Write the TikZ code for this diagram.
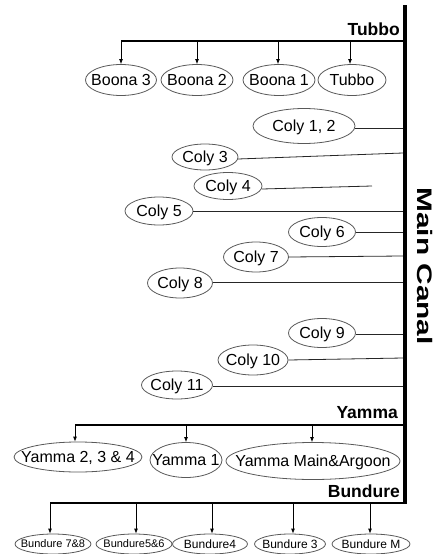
\documentclass[tikz,border=0pt]{standalone}
\usepackage{fontspec}
\setmainfont{Liberation Sans}
\usetikzlibrary{shapes.geometric,arrows.meta}
\newcommand\ovtext[1]{\makebox[0pt]{\raisebox{-0.36em}[0pt][0pt]{#1}}}
\tikzset{
  ov/.style={ellipse,draw=black!65,line width=0.8pt,inner sep=0pt,font=\fontsize{16}{16}\selectfont},
  ovs/.style={ov,font=\fontsize{12}{12}\selectfont},
  ovt/.style={ov,font=\fontsize{11}{11}\selectfont},
  canal/.style={line width=4pt,black},
  branch/.style={line width=2.2pt,black},
  arr/.style={line width=0.8pt,black,-{Latex[length=5pt,width=4pt]}},
  feed/.style={line width=0.8pt,black!85},
  lbl/.style={font=\fontsize{17.5}{17.5}\selectfont\bfseries,inner sep=0pt,anchor=base east}
}
\begin{document}
\begin{tikzpicture}[x=1pt,y=-1pt]
\useasboundingbox (0,0) rectangle (434,554);
% main canal
\coordinate (ctop) at (404.5,5);
\coordinate (cbot) at (404.5,503);
\draw[canal] (ctop) -- (cbot);
\node[font=\fontsize{21}{21}\selectfont\bfseries,rotate=-90,inner sep=0pt] (mc) at (425,266) {\scalebox{1.42}[1]{Main Canal}};

% Tubbo branch
\coordinate (tr) at (404,41);
\coordinate (tl) at (121,41);
\draw[branch] (tl) -- (tr);
\node[lbl] (tubbolbl) at (400,35) {Tubbo};
\node[ov,minimum width=71,minimum height=31] (b3) at (121,80) {\ovtext{Boona 3}};
\node[ov,minimum width=72,minimum height=31] (b2) at (197,80) {\ovtext{Boona 2}};
\node[ov,minimum width=72,minimum height=31] (b1) at (279,80) {\ovtext{Boona 1}};
\node[ov,minimum width=68,minimum height=31] (tu) at (352,80) {\ovtext{Tubbo}};
\coordinate (ta1) at (121,41);
\coordinate (ta2) at (197,41);
\coordinate (ta3) at (278,41);
\coordinate (ta4) at (350,41);
\draw[arr] (ta1) -- (ta1 |- b3.north);
\draw[arr] (ta2) -- (ta2 |- b2.north);
\draw[arr] (ta3) -- (ta3 |- b1.north);
\draw[arr] (ta4) -- (ta4 |- tu.north);

% Coly offtakes
\node[ov,minimum width=102,minimum height=35] (c12) at (304,126) {\ovtext{Coly 1, 2}};
\node[ov,minimum width=66,minimum height=26] (c3) at (205,157) {\ovtext{Coly 3}};
\node[ov,minimum width=68,minimum height=27] (c4) at (228,186) {\ovtext{Coly 4}};
\node[ov,minimum width=68,minimum height=28] (c5) at (159,211) {\ovtext{Coly 5}};
\node[ov,minimum width=67,minimum height=29] (c6) at (322,232) {\ovtext{Coly 6}};
\node[ov,minimum width=65,minimum height=30] (c7) at (256,257) {\ovtext{Coly 7}};
\node[ov,minimum width=65,minimum height=30] (c8) at (180,283) {\ovtext{Coly 8}};
\node[ov,minimum width=67,minimum height=29] (c9) at (322,333) {\ovtext{Coly 9}};
\node[ov,minimum width=70,minimum height=30] (c10) at (253,360) {\ovtext{Coly 10}};
\node[ov,minimum width=71,minimum height=28] (c11) at (177,385) {\ovtext{Coly 11}};
\coordinate (k12) at (403,128);
\coordinate (k3) at (403,153);
\coordinate (k4) at (372,186);
\coordinate (k5) at (403,211);
\coordinate (k6) at (403,232);
\coordinate (k7) at (403,256);
\coordinate (k8) at (403,282);
\coordinate (k9) at (403,334);
\coordinate (k10) at (403,358);
\coordinate (k11) at (403,386);
\draw[feed] (c12.east |- k12) -- (k12);
\draw[feed] (238,159) -- (k3);
\draw[feed] (262,189) -- (k4);
\draw[feed] (c5.east |- k5) -- (k5);
\draw[feed] (c6.east |- k6) -- (k6);
\draw[feed] (c7.east) -- (k7);
\draw[feed] (c8.east |- k8) -- (k8);
\draw[feed] (c9.east |- k9) -- (k9);
\draw[feed] (c10.east) -- (k10);
\draw[feed] (c11.east |- k11) -- (k11);

% Yamma branch
\coordinate (yr) at (404,425);
\coordinate (yl) at (75,425);
\draw[branch] (yl) -- (yr);
\node[lbl] (yammalbl) at (398,418) {Yamma};
\node[ov,minimum width=128,minimum height=30] (y234) at (78,457) {\ovtext{Yamma 2, 3 \& 4}};
\node[ov,minimum width=72,minimum height=35] (y1) at (186,460) {\ovtext{Yamma 1}};
\node[ov,minimum width=174,minimum height=37] (ym) at (313,461) {\ovtext{Yamma Main\&Argoon}};
\coordinate (ya1) at (75,425);
\coordinate (ya2) at (186,425);
\coordinate (ya3) at (312,425);
\draw[arr] (ya1) -- (ya1 |- y234.north);
\draw[arr] (ya2) -- (ya2 |- y1.north);
\draw[arr] (ya3) -- (ya3 |- ym.north);

% Bundure branch
\coordinate (br) at (406.5,503);
\coordinate (bl) at (50,503);
\draw[line width=2.6pt] (bl) -- (br);
\node[lbl] (bundurelbl) at (400,497) {Bundure};
\node[ovt,minimum width=76,minimum height=20] (bu78) at (53,544) {\ovtext{Bundure 7\&8}};
\node[ovt,minimum width=76,minimum height=20] (bu56) at (134,544) {\ovtext{Bundure5\&6}};
\node[ovs,minimum width=75,minimum height=20] (bu4) at (210,544) {\ovtext{Bundure4}};
\node[ovs,minimum width=71,minimum height=20] (bu3) at (290,544) {\ovtext{Bundure 3}};
\node[ovs,minimum width=78,minimum height=20] (bum) at (371,544) {\ovtext{Bundure M}};
\coordinate (ba1) at (50,503);
\coordinate (ba2) at (136,503);
\coordinate (ba3) at (212,503);
\coordinate (ba4) at (293,503);
\coordinate (ba5) at (370,503);
\draw[arr] (ba1) -- (ba1 |- bu78.north);
\draw[arr] (ba2) -- (ba2 |- bu56.north);
\draw[arr] (ba3) -- (ba3 |- bu4.north);
\draw[arr] (ba4) -- (ba4 |- bu3.north);
\draw[arr] (ba5) -- (ba5 |- bum.north);
\end{tikzpicture}
\end{document}
